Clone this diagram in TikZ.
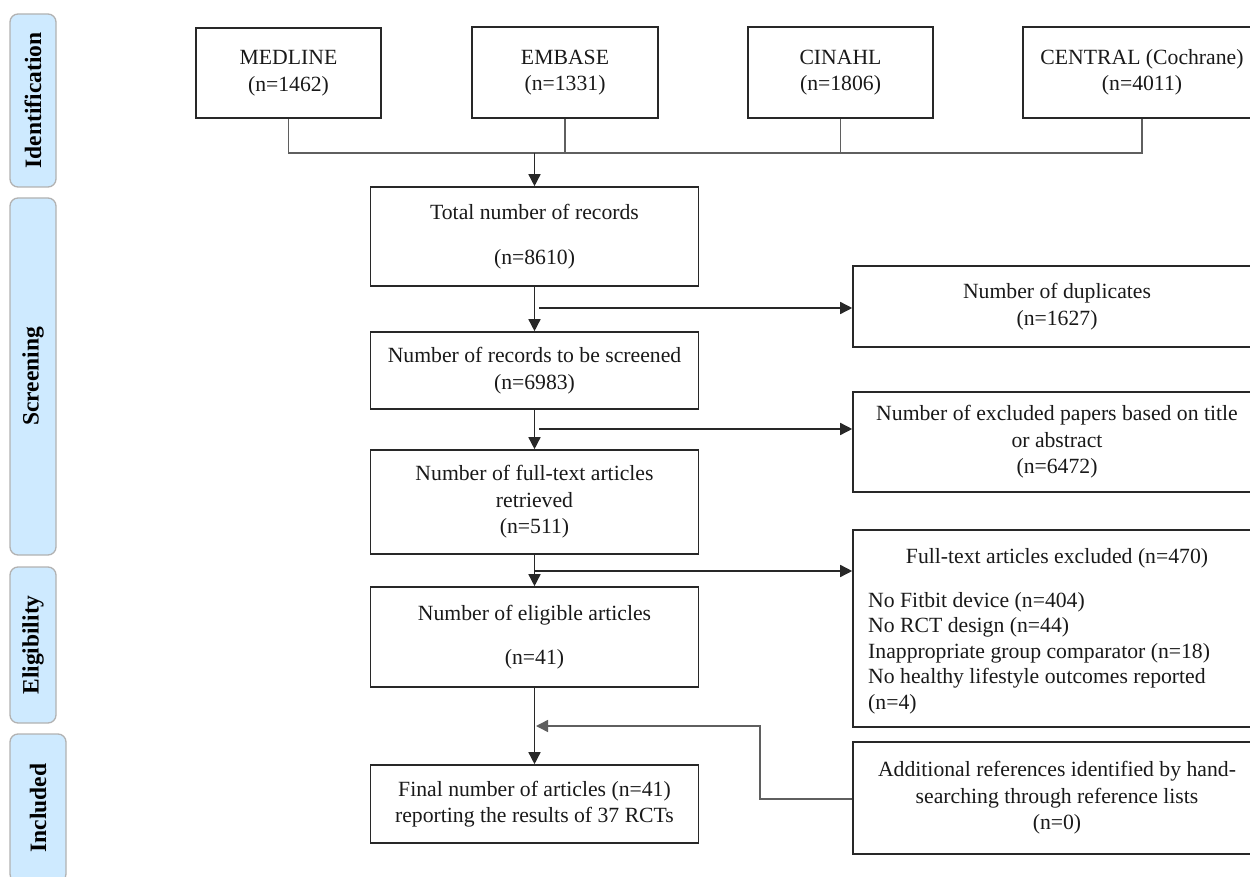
\documentclass[tikz,border=0pt]{standalone}
\usepackage{fontspec}
\setmainfont{Liberation Serif}
\usetikzlibrary{arrows.meta,calc}
\definecolor{barfill}{RGB}{206,234,255}
\definecolor{barline}{RGB}{178,178,178}
\definecolor{boxline}{RGB}{40,40,40}
\definecolor{conline}{RGB}{95,95,95}
\definecolor{txt}{RGB}{25,25,25}
\begin{document}
\begin{tikzpicture}[x=1pt,y=-1pt,
 box/.style={draw=boxline,line width=1.6pt,align=center,inner sep=0pt,text=txt,font=\fontsize{21.7}{26.5}\selectfont},
 plain/.style={align=center,inner sep=0pt,text=txt,font=\fontsize{21.7}{25.5}\selectfont},
 stagebar/.style={draw=barline,fill=barfill,line width=1.3pt,rounded corners=8pt,rotate=90,inner sep=0pt,text=black,font=\fontsize{23.5}{26}\selectfont\bfseries},
 arr/.style={line width=1.5pt,draw=boxline,-{Triangle[length=12pt,width=12pt]}},
 conn/.style={line width=1.5pt,draw=conline}]
\useasboundingbox (0,0) rectangle (1250,877);
\clip (0,0) rectangle (1250,877);

% stage bars
\node[stagebar,minimum width=173pt,minimum height=46pt] (sid) at (33,100.5) {Identification};
\node[stagebar,minimum width=357pt,minimum height=46pt] (sscr) at (33,376.5) {Screening};
\node[stagebar,minimum width=156pt,minimum height=46pt] (seli) at (33,645) {Eligibility};
\node[stagebar,minimum width=148pt,minimum height=56pt] (sinc) at (38,808) {Included};

% databases
\node[box,minimum width=185pt,minimum height=90pt] (med) at (288.5,73) {MEDLINE\\(n=1462)};
\node[box,minimum width=186pt,minimum height=91pt] (emb) at (565,72.5) {EMBASE\\(n=1331)};
\node[box,minimum width=185pt,minimum height=91pt] (cin) at (840.5,72.5) {CINAHL\\(n=1806)};
\node[box,minimum width=238pt,minimum height=91pt] (cen) at (1142,72.5) {CENTRAL (Cochrane)\\(n=4011)};

% main column
\node[box,minimum width=328pt,minimum height=99pt] (total) at (534.5,236.5) {Total number of records\\[19pt](n=8610)};
\node[box,minimum width=328pt,minimum height=77pt] (screen) at (534.5,370.5) {Number of records to be screened\\(n=6983)};
\node[box,minimum width=328pt,minimum height=104pt] (full) at (534.5,502) {Number of full-text articles\\retrieved\\(n=511)};
\node[box,minimum width=328pt,minimum height=100pt] (elig) at (534.5,637) {Number of eligible articles\\[17pt](n=41)};
\node[box,minimum width=328pt,minimum height=78pt] (final) at (534.5,804) {Final number of articles (n=41)\\reporting the results of 37 RCTs};

% right column
\node[box,minimum width=408pt,minimum height=81pt] (dup) at (1057,306.5) {Number of duplicates\\(n=1627)};
\node[box,minimum width=408pt,minimum height=100pt] (title) at (1057,442) {Number of excluded papers based on title\\or abstract\\(n=6472)};
\node[box,minimum width=408pt,minimum height=197pt] (ftex) at (1057,628.5) {};
\node[plain] (ftext) at (1057,558) {Full-text articles excluded (n=470)};
\node[plain,align=left,anchor=west] (ftlist) at (868,653) {No Fitbit device (n=404)\\No RCT design (n=44)\\Inappropriate group comparator (n=18)\\No healthy lifestyle outcomes reported\\(n=4)};
\node[box,minimum width=408pt,minimum height=112pt] (add) at (1057,798) {Additional references identified by hand-\\searching through reference lists\\(n=0)};

% top merge
\coordinate (merge) at (534.5,153);
\draw[conn] (med.south) -- (med.south |- merge) -- (cen.south |- merge) -- (cen.south);
\draw[conn] (emb.south) -- (emb.south |- merge);
\draw[conn] (cin.south) -- (cin.south |- merge);
\draw[arr] (merge) -- (total.north);

% main flow
\draw[arr] (total.south) -- (screen.north);
\draw[arr] (screen.south) -- (full.north);
\draw[arr] (full.south) -- (elig.north);
\draw[arr] (elig.south) -- (final.north);

% exclusions
\coordinate (b1) at (539,308);
\draw[arr] (b1) -- (b1 -| dup.west);
\coordinate (b2) at (539,429);
\draw[arr] (b2) -- (b2 -| title.west);
\coordinate (b3) at (534.5,571);
\draw[arr] (b3) -- (b3 -| ftex.west);

% additional references
\coordinate (j1) at (760,799);
\coordinate (j2) at (536,726);
\draw[arr,draw=conline] (add.west |- j1) -- (j1) |- (j2);
\end{tikzpicture}
\end{document}
